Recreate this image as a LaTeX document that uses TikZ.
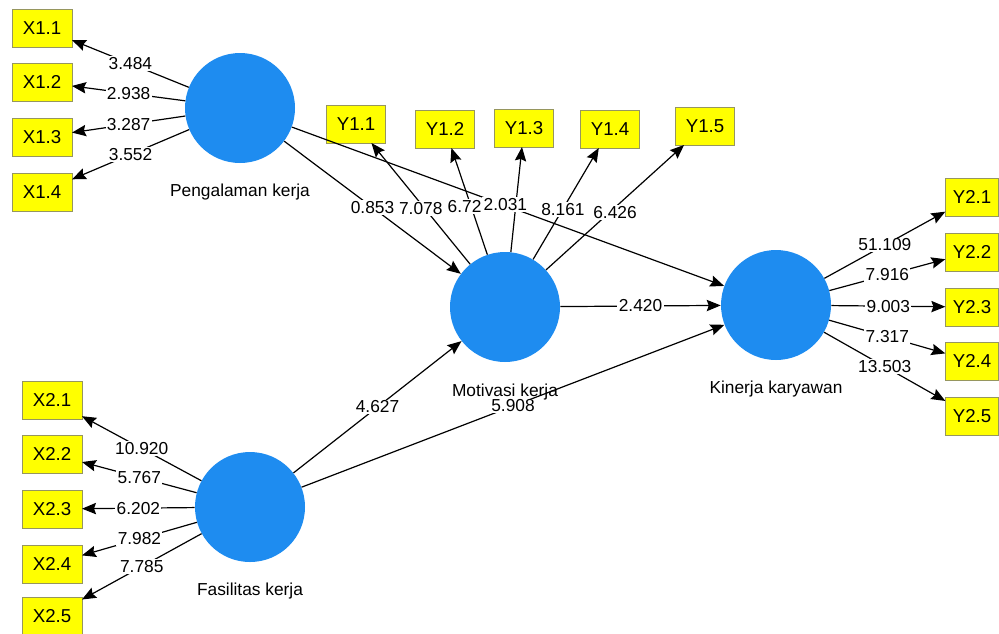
\documentclass[tikz,border=0pt]{standalone}
\usepackage{fontspec}
\setmainfont{Liberation Sans}
\usetikzlibrary{arrows.meta}

\definecolor{lvblue}{RGB}{30,140,240}
\definecolor{mvyellow}{RGB}{255,255,0}
\definecolor{mvedge}{RGB}{150,150,95}

\begin{document}
\begin{tikzpicture}[x=0.75pt,y=0.75pt,yscale=-1,xscale=1,
    lv/.style={circle,fill=lvblue,inner sep=0pt,minimum size=82.5pt},
    mv/.style={rectangle,fill=mvyellow,draw=mvedge,line width=0.5pt,minimum width=45pt,minimum height=28.5pt,inner sep=0pt,outer sep=0pt,font=\fontsize{14}{16}\selectfont},
    lvcap/.style={inner sep=0.75pt,font=\fontsize{13}{15}\selectfont},
    lbl/.style={fill=white,inner sep=1pt,font=\fontsize{13}{15}\selectfont},
    arr/.style={line width=0.9pt,-{Stealth[length=10.5pt,width=8.5pt,inset=1.5pt]}}]
  \useasboundingbox (0,0) rectangle (999,633);

  %Shape: latent variables
  \node[lv] (pk) at (240,108) {};
  \node[lv] (mk) at (505,307) {};
  \node[lv] (kk) at (776,305) {};
  \node[lv] (fk) at (250,507) {};

  % Text Node
  \node[lvcap] (pkl) at (240,192) {Pengalaman kerja};
  \node[lvcap] (mkl) at (505,392) {Motivasi kerja};
  \node[lvcap] (kkl) at (776,389) {Kinerja karyawan};
  \node[lvcap] (fkl) at (250,591) {Fasilitas kerja};

  %Shape: indicators
  \foreach \i/\y in {1/28,2/82,3/137,4/192}
    \node[mv] (x1\i) at (42,\y) {X1.\i};
  \foreach \i/\y in {1/400,2/454,3/509,4/564,5/616}
    \node[mv] (x2\i) at (52,\y) {X2.\i};
  \foreach \i/\x/\y in {1/356/124,2/445/129,3/524/128,4/610/129,5/705/126}
    \node[mv,minimum width=44pt] (y1\i) at (\x,\y) {Y1.\i};
  \foreach \i/\y in {1/197,2/252,3/307,4/361,5/416}
    \node[mv,minimum width=40pt] (y2\i) at (972,\y) {Y2.\i};

  %Straight Lines: inner model
  \draw[arr] (pk) -- (kk);
  \draw[arr] (pk) -- node[lbl] (t1) {0.853} (mk);
  \draw[arr] (fk) -- node[lbl] (t2) {4.627} (mk);
  \draw[arr] (fk) -- node[lbl] (t3) {5.908} (kk);
  \draw[arr] (mk) -- node[lbl] (t4) {2.420} (kk);

  %Straight Lines: outer model
  \foreach \i/\v in {1/3.484,2/2.938,3/3.287,4/3.552}
    \draw[arr] (pk) -- node[lbl] {\v} (x1\i);
  \foreach \i/\v in {1/10.920,2/5.767,3/6.202,4/7.982,5/7.785}
    \draw[arr] (fk) -- node[lbl] {\v} (x2\i);
  \foreach \i/\v/\s in {1/7.078/0,2/6.721/0,3/2.031/-11,4/8.161/-3,5/6.426/0}
    \draw[arr] (mk) -- node[lbl,xshift=\s*0.75pt,yshift=-4pt] {\v} (y1\i);
  \foreach \i/\v in {1/51.109,2/7.916,3/9.003,4/7.317,5/13.503}
    \draw[arr] (kk) -- node[lbl] {\v} (y2\i);
\end{tikzpicture}
\end{document}
